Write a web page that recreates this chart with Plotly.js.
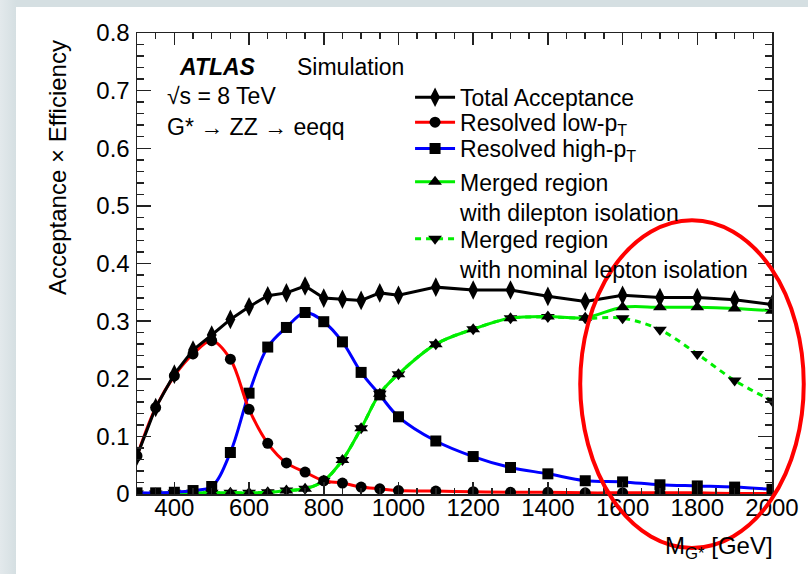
<!DOCTYPE html>
<html>
<head>
<meta charset="utf-8">
<script src="https://cdn.plot.ly/plotly-3.0.1.min.js"></script>
<style>
html,body{margin:0;padding:0;width:808px;height:574px;overflow:hidden;background:linear-gradient(90deg,#e3e9ec 0px,#d5dfe2 16px);}
#plot{position:absolute;left:16px;top:7px;width:792px;height:567px;background:#fff;}
</style>
</head>
<body>
<div id="plot"></div>
<script>
// Graviton mass points [GeV]
const mass = [300,350,400,450,500,550,600,650,700,750,800,850,900,950,1000,1100,1200,1300,1400,1500,1600,1700,1800,1900,2000];
// Acceptance x Efficiency per selection
const totalAcc = [0.066,0.150,0.208,0.250,0.276,0.303,0.325,0.344,0.349,0.361,0.340,0.338,0.336,0.349,0.345,0.359,0.354,0.354,0.343,0.334,0.345,0.341,0.341,0.337,0.329];
const resolvedLowPt = [0.066,0.150,0.205,0.243,0.266,0.234,0.147,0.088,0.054,0.038,0.023,0.019,0.012,0.009,0.006,0.005,0.004,0.003,0.003,0.002,0.002,0.002,0.002,0.001,0.001];
const resolvedHighPt = [0.002,0.002,0.003,0.006,0.013,0.072,0.175,0.255,0.289,0.315,0.299,0.264,0.211,0.172,0.134,0.092,0.065,0.046,0.035,0.023,0.021,0.016,0.014,0.012,0.008];
const mergedDilepIso = [0.001,0.001,0.002,0.002,0.002,0.002,0.002,0.003,0.006,0.009,0.023,0.059,0.114,0.174,0.208,0.260,0.286,0.305,0.308,0.306,0.324,0.324,0.324,0.322,0.318];
const mergedNominalIso = [0.001,0.001,0.002,0.002,0.002,0.002,0.002,0.003,0.006,0.009,0.023,0.059,0.114,0.174,0.208,0.260,0.286,0.305,0.307,0.305,0.305,0.285,0.243,0.197,0.162];

const seriesNames = ["Total Acceptance","Resolved low-p<sub>T</sub>","Resolved high-p<sub>T</sub>","Merged region<br>with dilepton isolation","Merged region<br>with nominal lepton isolation"];

const FONT = "Liberation Sans, Arial, Helvetica, sans-serif";

const traces = [
  {x: mass, y: mergedNominalIso, name: seriesNames[4], legend: "legend5", mode: "lines+markers", showlegend: true,
   line: {color: "#00ee00", width: 3, dash: "6px,5px", shape: "spline"},
   marker: {symbol: "triangle-down", size: 12, color: "#000"}},
  {x: mass, y: mergedDilepIso, name: seriesNames[3], legend: "legend4", mode: "lines+markers", showlegend: true,
   line: {color: "#00ee00", width: 3, shape: "spline"},
   marker: {symbol: "triangle-up", size: 12, color: "#000"}},
  {x: mass, y: resolvedHighPt, name: seriesNames[2], legend: "legend3", mode: "lines+markers", showlegend: true,
   line: {color: "#0000ff", width: 3, shape: "spline"},
   marker: {symbol: "square", size: 11, color: "#000"}},
  {x: mass, y: resolvedLowPt, name: seriesNames[1], legend: "legend2", mode: "lines+markers", showlegend: true,
   line: {color: "#ff0000", width: 3, shape: "spline"},
   marker: {symbol: "circle", size: 11, color: "#000"}},
  {x: mass, y: totalAcc, name: seriesNames[0], legend: "legend", mode: "lines+markers", showlegend: true,
   line: {color: "#000", width: 3},
   marker: {symbol: "diamond-tall", size: 14, color: "#000"}}
];

function leg(y){
  return {x: 0.430, y: y, xanchor: "left", yanchor: "top", bgcolor: "rgba(0,0,0,0)", visible: true,
          borderwidth: 0, font: {family: FONT, size: 23, color: "#000"}, valign: "top", itemwidth: 40};
}

const axisCommon = {
  showline: true, linecolor: "#222", linewidth: 1.5, mirror: "allticks",
  ticks: "inside", tickcolor: "#222", tickwidth: 1.5, showgrid: false, zeroline: false,
  tickfont: {family: FONT, size: 24, color: "#000"}
};

const layout = {
  width: 792, height: 567,
  showlegend: true,
  margin: {l: 121, r: 36, t: 26, b: 80},
  paper_bgcolor: "#fff", plot_bgcolor: "#fff",
  font: {family: FONT, color: "#000"},
  xaxis: Object.assign({}, axisCommon, {range: [300, 2000], dtick: 200, tick0: 0, ticklen: 12, ticklabelstandoff: -8,
    minor: {dtick: 50, ticklen: 6, ticks: "inside", tickcolor: "#222", tickwidth: 1.5}}),
  yaxis: Object.assign({}, axisCommon, {range: [0, 0.8], dtick: 0.1, ticklen: 14, ticklabelstandoff: 1,
    minor: {dtick: 0.02, ticklen: 7, ticks: "inside", tickcolor: "#222", tickwidth: 1.5}}),
  legend: leg(0.907), legend2: leg(0.853), legend3: leg(0.796), legend4: leg(0.724), legend5: leg(0.600),
  annotations: [
    {text: "Acceptance × Efficiency", xref: "paper", yref: "paper", x: -0.126, y: 0.99, textangle: -90,
     xanchor: "center", yanchor: "top", showarrow: false, font: {family: FONT, size: 24}},
    {text: "M<sub>G*</sub> [GeV]", xref: "paper", yref: "paper", x: 1.005, y: -0.117,
     xanchor: "right", yanchor: "middle", showarrow: false, font: {family: FONT, size: 24}},
    {text: "<b><i>ATLAS</i></b>", xref: "paper", yref: "paper", x: 0.063, y: 0.926,
     xanchor: "left", yanchor: "middle", showarrow: false, font: {family: FONT, size: 23}},
    {text: "Simulation", xref: "paper", yref: "paper", x: 0.249, y: 0.926,
     xanchor: "left", yanchor: "middle", showarrow: false, font: {family: FONT, size: 23}},
    {text: "√s = 8 TeV", xref: "paper", yref: "paper", x: 0.044, y: 0.863,
     xanchor: "left", yanchor: "middle", showarrow: false, font: {family: FONT, size: 23}},
    {text: "G* → ZZ → eeqq", xref: "paper", yref: "paper", x: 0.044, y: 0.796,
     xanchor: "left", yanchor: "middle", showarrow: false, font: {family: FONT, size: 23}}
  ],
  shapes: [
    {type: "circle", xref: "paper", yref: "paper", x0: 0.698, x1: 1.050, y0: -0.117, y1: 0.594,
     line: {color: "#ff0000", width: 4}, layer: "above"}
  ]
};

Plotly.newPlot("plot", traces, layout, {displayModeBar: false, staticPlot: true});
</script>
</body>
</html>
